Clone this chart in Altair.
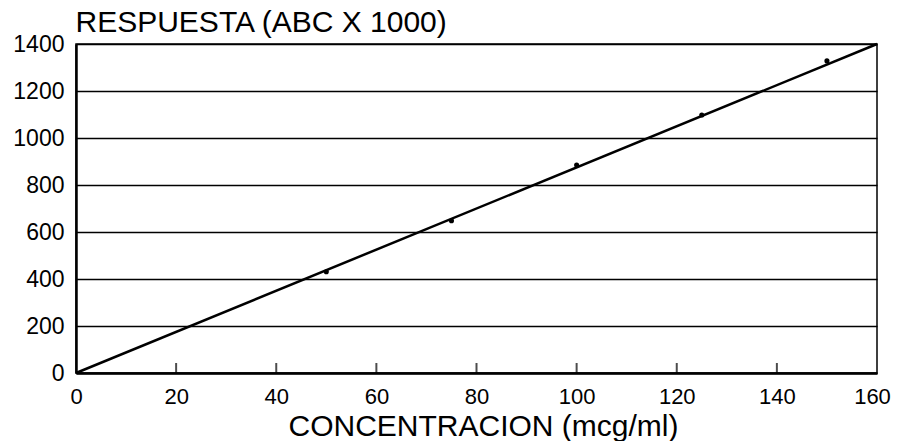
import altair as alt
import pandas as pd

# measured points
conc = [50, 75, 100, 125, 150]
resp = [431, 648, 885, 1098, 1328]
# fitted line end points
fit_x = [0, 160]
fit_y = [0, 1400]
# axis ticks
x_ticks = [0, 20, 40, 60, 80, 100, 120, 140, 160]
inner_ticks = [20, 40, 60, 80, 100, 120, 140]
y_ticks = [0, 200, 400, 600, 800, 1000, 1200, 1400]

pts = pd.DataFrame({"x": conc, "y": resp})
fit = pd.DataFrame({"x": fit_x, "y": fit_y})
tk = pd.DataFrame({"x": inner_ticks, "y": [0] * len(inner_ticks)})

FONT = "Liberation Sans"

xscale = alt.Scale(domain=[0, 160], nice=False, zero=False)
yscale = alt.Scale(domain=[0, 1400], nice=False)

xaxis = alt.Axis(
    values=x_ticks, ticks=False, grid=False, domain=True, format="d",
    domainColor="black", domainWidth=2.5,
    labelFont=FONT, labelFontSize=22, labelColor="black", labelPadding=13,
    labelFlush=False, labelOffset=alt.expr("datum.value == 160 ? -5 : 0"),
    title="CONCENTRACION (mcg/ml)", titleFont=FONT, titleFontSize=30,
    titleFontWeight="normal", titleColor="black",
    titleX=407, titleY=62, titleAlign="center", titleBaseline="alphabetic",
)
yaxis = alt.Axis(
    values=y_ticks, ticks=False, grid=True, gridColor="black", gridWidth=1.5,
    gridOpacity=1, domain=True, domainColor="black", domainWidth=2.5, format="d",
    labelFont=FONT, labelFontSize=23, labelColor="black", labelPadding=12,
    title="RESPUESTA (ABC X 1000)", titleFont=FONT, titleFontSize=30,
    titleFontWeight="normal", titleColor="black", titleAngle=0,
    titleX=-1, titleY=-13, titleAlign="left", titleBaseline="alphabetic",
)

line = alt.Chart(fit).mark_line(color="black", strokeWidth=2.5).encode(
    x=alt.X("x:Q", scale=xscale, axis=xaxis),
    y=alt.Y("y:Q", scale=yscale, axis=yaxis),
)
dots = alt.Chart(pts).mark_circle(color="black", size=26, opacity=1).encode(
    x=alt.X("x:Q", scale=xscale),
    y=alt.Y("y:Q", scale=yscale),
)
ticks = alt.Chart(tk).mark_tick(color="black", thickness=2, size=10, yOffset=-5, orient="vertical").encode(
    x=alt.X("x:Q", scale=xscale),
    y=alt.Y("y:Q", scale=yscale),
)

chart = alt.layer(line, ticks, dots).properties(
    width=801, height=329,
    autosize=alt.AutoSizeParams(type="none"),
    padding={"left": 68, "top": 36, "right": 15, "bottom": 68},
    background="white",
).configure_view(stroke="black", strokeWidth=1.5)

chart.save("out.html", embed_options={"renderer": "svg", "actions": False})
